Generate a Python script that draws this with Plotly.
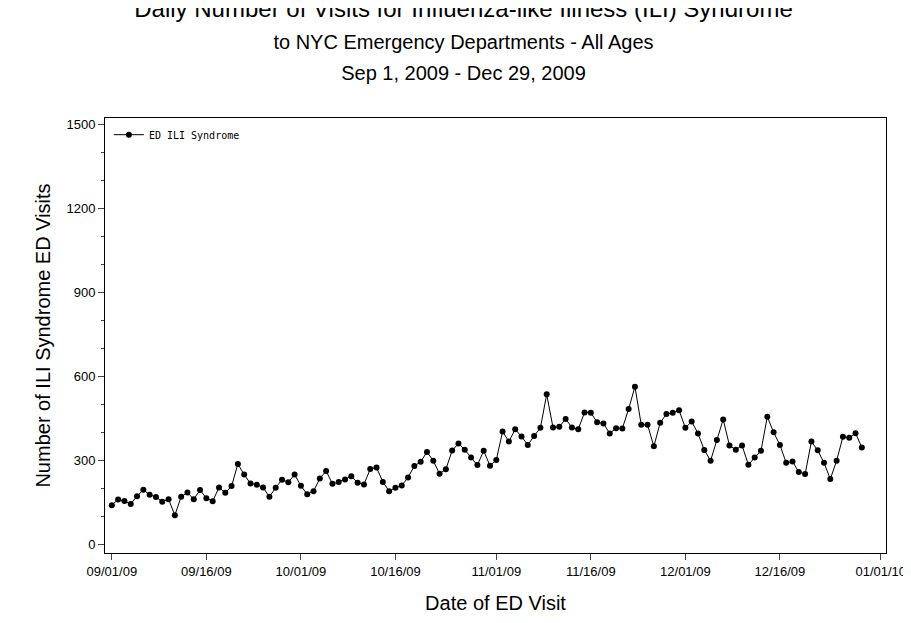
import pandas as pd
import plotly.graph_objects as go

dates = pd.date_range("2009-09-01", "2009-12-29", freq="D")
visits = [
    139, 159, 154, 143, 171, 194, 176, 168, 151, 160, 103, 169, 184, 160, 193,
    164, 153, 202, 183, 207, 286, 248, 216, 212, 202, 169, 201, 230, 221, 248,
    208, 178, 189, 234, 261, 215, 222, 231, 242, 219, 213, 268,
    273, 222, 189, 201, 209, 238, 279, 294, 329, 298, 251, 267, 334, 359, 337,
    309, 282, 333, 280, 300, 402, 366, 410, 384, 354, 386, 415, 535, 416, 419,
    447, 416, 410, 470, 469, 435, 431, 395, 414, 413, 482, 562,
    426, 426, 349, 433, 465, 469, 478, 415, 438, 395, 336, 298, 372, 445, 352,
    337, 352, 283, 309, 333, 455, 399, 354, 290, 295, 257, 250, 366, 335, 290,
    232, 298, 383, 380, 396, 345,
]
tick_dates = pd.date_range("2009-09-01", periods=9, freq="15D")
tick_dates = list(tick_dates[:8]) + [pd.Timestamp("2010-01-01")]
tick_labels = ["09/01/09", "09/16/09", "10/01/09", "10/16/09", "11/01/09",
               "11/16/09", "12/01/09", "12/16/09", "01/01/10"]
tick_dates = [pd.Timestamp(d) for d in ["2009-09-01", "2009-09-16", "2009-10-01",
              "2009-10-16", "2009-11-01", "2009-11-16", "2009-12-01",
              "2009-12-16", "2010-01-01"]]

fig = go.Figure()
fig.add_trace(go.Scatter(
    x=dates, y=visits, mode="lines+markers", name="ED ILI Syndrome",
    line=dict(color="black", width=1),
    marker=dict(color="black", size=6, symbol="circle"),
))

fig.update_layout(
    width=911, height=623,
    paper_bgcolor="white", plot_bgcolor="white",
    font=dict(family="Liberation Sans, Arial", color="black"),
    margin=dict(l=97, r=33, t=110, b=78),
    title=dict(
        text="Daily Number of Visits for Influenza-like Illness (ILI) Syndrome"
             "<br><span style='font-size:20px'>to NYC Emergency Departments - All Ages"
             "<br>Sep 1, 2009 - Dec 29, 2009</span>",
        x=0.5, xanchor="center", y=0.985, yanchor="top",
        font=dict(size=24),
    ),
    showlegend=True,
    legend=dict(x=0.005, y=0.995, xanchor="left", yanchor="top",
                font=dict(family="DejaVu Sans Mono", size=10),
                bgcolor="rgba(0,0,0,0)"),
    xaxis=dict(
        title=dict(text="Date of ED Visit", font=dict(size=20), standoff=18),
        range=[pd.Timestamp("2009-09-01") - pd.Timedelta(hours=26),
               pd.Timestamp("2010-01-01") + pd.Timedelta(hours=20)],
        tickvals=tick_dates, ticktext=tick_labels,
        ticks="outside", ticklen=6, tickfont=dict(size=13),
        showline=True, linecolor="black", mirror=True, showgrid=False,
        zeroline=False,
    ),
    yaxis=dict(
        title=dict(text="Number of ILI Syndrome ED Visits", font=dict(size=20), standoff=10),
        range=[-32, 1522], tickvals=[0, 300, 600, 900, 1200, 1500],
        ticks="outside", ticklen=6, tickfont=dict(size=13),
        minor=dict(ticks="outside", ticklen=3, dtick=100, tick0=0, showgrid=False),
        showline=True, linecolor="black", mirror=True, showgrid=False,
        zeroline=False,
    ),
)

fig.write_html("out.html")
